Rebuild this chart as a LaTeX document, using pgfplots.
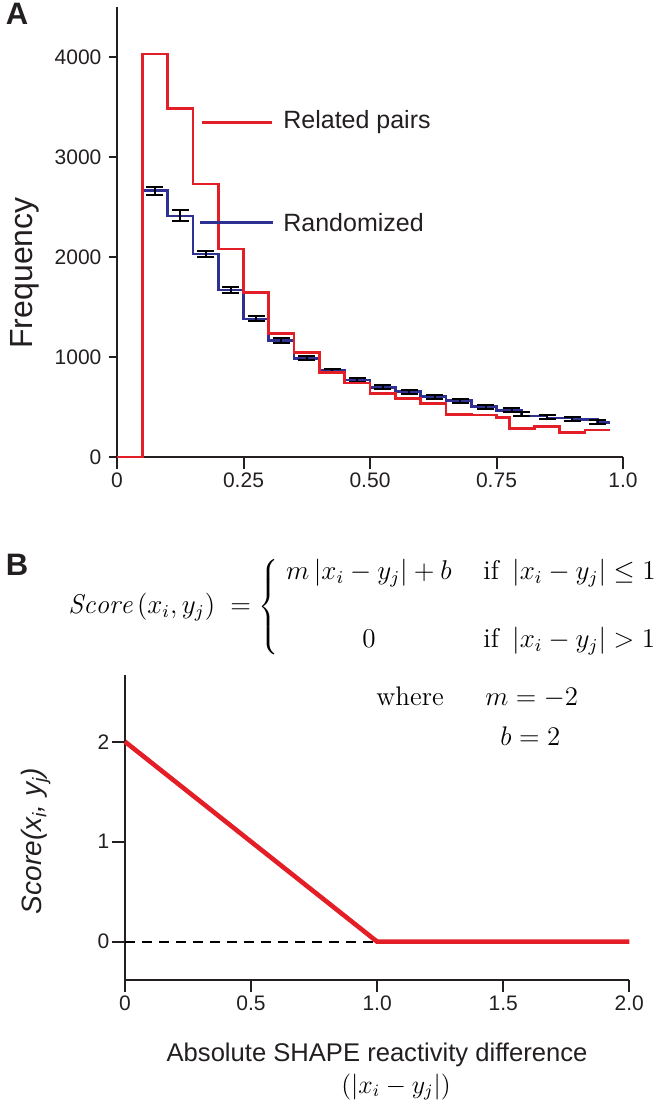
\documentclass[border=0pt]{standalone}
\usepackage{fontspec}
\usepackage{pgfplots}
\pgfplotsset{compat=1.18}
\newfontfamily\arial{Liberation Sans}
\definecolor{myred}{RGB}{228,30,38}
\definecolor{myblue}{RGB}{46,49,146}
\definecolor{axgray}{RGB}{35,31,32}

\begin{document}
\begin{tikzpicture}
\path[use as bounding box] (0,0) rectangle (333pt,558.5pt);

% ---------------- Panel A ----------------
\begin{axis}[
  at={(58.5pt,330pt)}, anchor=south west,
  scale only axis, width=253pt, height=225pt,
  xmin=0, xmax=1, ymin=0, ymax=4500,
  axis lines=left, axis line style={-, line width=1pt, axgray},
  tick align=outside,
  xtick={0,0.25,0.5,0.75,1}, xticklabels={0,0.25,0.50,0.75,1.0},
  ytick={0,1000,2000,3000,4000}, yticklabels={0,1000,2000,3000,4000},
  xtick style={line width=1pt, axgray, /pgfplots/major tick length=6pt},
  ytick style={line width=1pt, axgray, /pgfplots/major tick length=4.25pt},
  ticklabel style={font=\arial\fontsize{10.5}{12}\selectfont, text=axgray},
  clip=false,
]
\addplot[myblue, line width=1.35pt, const plot] coordinates {
(0,0) (0.05,2663) (0.10,2410) (0.15,2030) (0.20,1670) (0.25,1380) (0.30,1163)
(0.35,987) (0.40,863) (0.45,770) (0.50,697) (0.55,653) (0.60,603) (0.65,563)
(0.70,503) (0.75,465) (0.80,410) (0.85,390) (0.90,372) (0.95,345) (0.975,345)};
\addplot[draw=none, mark=none,
  error bars/.cd, y dir=both, y explicit,
  error bar style={draw=black, line width=1pt},
  error mark options={rotate=90, draw=black, line width=1pt, mark size=4.25pt}] coordinates {
(0.075,2663) +- (0,40)
(0.125,2410) +- (0,55)
(0.175,2030) +- (0,33)
(0.225,1670) +- (0,30)
(0.275,1380) +- (0,25)
(0.325,1163) +- (0,22)
(0.375,987) +- (0,22)
(0.425,863) +- (0,20)
(0.475,770) +- (0,20)
(0.525,697) +- (0,20)
(0.578,653) +- (0,20)
(0.628,597) +- (0,20)
(0.678,560) +- (0,20)
(0.729,497) +- (0,20)
(0.78,470) +- (0,20)
(0.80,425) +- (0,20)
(0.85,400) +- (0,20)
(0.90,377) +- (0,20)
(0.95,345) +- (0,20)};
\addplot[myred, line width=1.35pt, const plot] coordinates {
(0,0) (0.05,4030) (0.10,3487) (0.15,2730) (0.20,2080) (0.25,1643) (0.30,1237)
(0.35,1047) (0.40,848) (0.45,740) (0.50,637) (0.55,587) (0.60,537) (0.65,427)
(0.70,420) (0.75,397) (0.775,287) (0.825,303) (0.875,243) (0.925,270) (0.975,270)};
% key lines
\addplot[myred, line width=1.35pt] coordinates {(0.167,3347) (0.306,3347)};
\addplot[myblue, line width=1.35pt] coordinates {(0.164,2343) (0.308,2343)};
\node[anchor=west, font=\arial\fontsize{12.5}{15}\selectfont, text=axgray, inner sep=0pt] at (axis cs:0.328,3350) {Related pairs};
\node[anchor=west, font=\arial\fontsize{12.5}{15}\selectfont, text=axgray, inner sep=0pt] at (axis cs:0.328,2343) {Randomized};
\end{axis}

\node[font=\arial\bfseries\fontsize{15.5}{18}\selectfont, text=axgray] at (8.5pt,551.5pt) {A};
\node[rotate=90, font=\arial\fontsize{16}{19}\selectfont, text=axgray] at (12.5pt,422pt) {Frequency};

% ---------------- Panel B ----------------
\node[font=\arial\bfseries\fontsize{15.5}{18}\selectfont, text=axgray] at (8.5pt,276pt) {B};
\node[anchor=west, font=\large, inner sep=0pt, scale=1.13, transform shape] at (34pt,255pt)
 {$\mathit{Score}\left(x_i, y_j\right) \;=\left\{\begin{array}{@{\;}c@{\hspace{14pt}}l@{}}
 m\left|x_i-y_j\right|+b & \mbox{if }\left|x_i-y_j\right|\le 1\\[16pt]
 0 & \mbox{if }\left|x_i-y_j\right|>1\end{array}\right.$};
\node[anchor=base west, font=\large, scale=1.12, transform shape, inner sep=0pt] at (188pt,205.5pt) {where};
\node[anchor=base west, font=\large, scale=1.12, transform shape, inner sep=0pt] at (242.5pt,205.5pt) {$m=-2$};
\node[anchor=base west, font=\large, scale=1.12, transform shape, inner sep=0pt] at (250pt,185.5pt) {$b=2$};

\begin{axis}[
  at={(62.5pt,68.5pt)}, anchor=south west,
  scale only axis, width=252.15pt, height=152.5pt,
  xmin=0, xmax=2, ymin=-0.383, ymax=2.667,
  axis lines=left, axis line style={-, line width=1pt, axgray},
  tick align=outside,
  xtick={0,0.5,1,1.5,2}, xticklabels={0,0.5,1.0,1.5,2.0},
  ytick={0,1,2}, yticklabels={0,1,2},
  xtick style={line width=1pt, axgray, /pgfplots/major tick length=6pt},
  ytick style={line width=1pt, axgray, /pgfplots/major tick length=6.5pt},
  ticklabel style={font=\arial\fontsize{10.5}{12}\selectfont, text=axgray},
  clip=false,
]
\addplot[black, line width=1pt, dash pattern=on 5pt off 3.5pt] coordinates {(0,0) (1,0)};
\addplot[myred, line width=2.3pt] coordinates {(0,2) (1,0) (2,0)};
\end{axis}

\node[rotate=90, font=\arial\itshape\fontsize{14}{17}\selectfont, text=axgray] at (18pt,138pt) {Score(x\textsubscript{i}, y\textsubscript{j})};
\node[anchor=base, font=\arial\fontsize{12.8}{15}\selectfont, text=axgray] at (188.5pt,27.5pt) {Absolute SHAPE reactivity difference};
\node[anchor=base, font=\large, scale=1.08, transform shape] at (198pt,12pt) {$(|x_i-y_j|)$};
\end{tikzpicture}
\end{document}
